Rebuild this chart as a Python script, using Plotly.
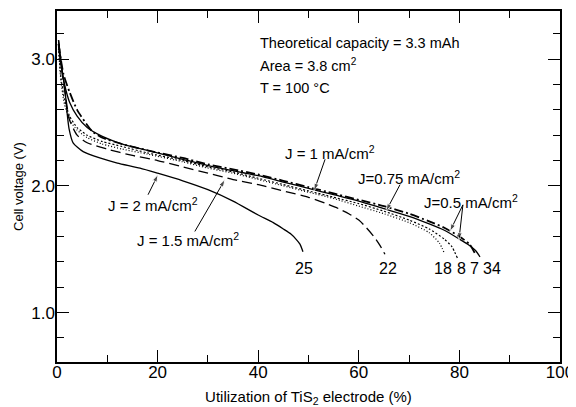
import plotly.graph_objects as go

# ---------------- data ----------------
# J = 2 mA/cm2 (label 25)
x_j2 = [0.3, 1.0, 1.6, 2.0, 2.4, 3.2, 5.2, 8.5, 12, 16.5, 20, 25, 30, 35, 40, 43, 45, 46.5, 47.5, 48.3, 48.9]
y_j2 = [3.15, 2.92, 2.75, 2.58, 2.45, 2.34, 2.27, 2.22, 2.18, 2.14, 2.10, 2.04, 1.97, 1.88, 1.77, 1.71, 1.66, 1.62, 1.58, 1.54, 1.48]

# J = 1.5 mA/cm2 (label 22)
x_j15 = [0.3, 1.0, 1.8, 2.5, 4, 6, 10, 15, 20, 25, 30, 35, 40, 45, 50, 53.5, 56, 58, 60, 61.5, 63, 64.2, 65.2]
y_j15 = [3.15, 2.90, 2.68, 2.52, 2.40, 2.34, 2.29, 2.24, 2.20, 2.15, 2.10, 2.05, 2.01, 1.96, 1.91, 1.86, 1.82, 1.78, 1.73, 1.67, 1.60, 1.53, 1.46]

# J = 1 mA/cm2 (label 18)
x_j1 = [0.3, 0.8, 1.5, 2.5, 4, 6, 9, 13, 18, 25, 30, 35, 40, 45, 50, 55, 60, 65, 70, 74, 76, 77]
y_j1 = [3.08, 2.82, 2.64, 2.52, 2.44, 2.38, 2.33, 2.29, 2.25, 2.19, 2.14, 2.10, 2.05, 2.00, 1.95, 1.90, 1.84, 1.78, 1.71, 1.63, 1.55, 1.47]

# J = 0.75 mA/cm2 (label 8)
x_j075 = [0.3, 0.8, 1.5, 2.5, 4, 6, 9, 13, 18, 25, 30, 35, 40, 45, 50, 55, 60, 65, 70, 74, 77, 78.5, 79.6]
y_j075 = [3.10, 2.85, 2.68, 2.55, 2.46, 2.40, 2.35, 2.31, 2.26, 2.20, 2.15, 2.11, 2.06, 2.01, 1.96, 1.91, 1.86, 1.80, 1.73, 1.66, 1.58, 1.52, 1.43]

# J = 0.5 mA/cm2, first curve (label 7)
x_j05a = [0.3, 1.3, 2.5, 4, 6, 7, 9, 13, 18, 25, 30, 35, 40, 45, 50, 55, 60, 65, 70, 74, 77, 80, 82, 83.3]
y_j05a = [3.12, 2.88, 2.74, 2.60, 2.48, 2.43, 2.38, 2.33, 2.28, 2.22, 2.17, 2.13, 2.09, 2.04, 1.99, 1.94, 1.89, 1.84, 1.78, 1.72, 1.67, 1.60, 1.54, 1.45]

# J = 0.5 mA/cm2, second curve (label 34)
x_j05b = [0.3, 0.8, 1.5, 2.5, 4, 6, 9, 13, 18, 25, 30, 35, 40, 45, 50, 55, 60, 65, 70, 74, 77, 80, 82, 83.2, 84.1]
y_j05b = [3.12, 2.95, 2.80, 2.66, 2.55, 2.46, 2.39, 2.33, 2.28, 2.21, 2.16, 2.12, 2.08, 2.03, 1.98, 1.93, 1.88, 1.82, 1.76, 1.70, 1.65, 1.58, 1.53, 1.49, 1.44]

end_labels = ["25", "22", "18", "8", "7", "34"]
end_label_x = [49.1, 65.8, 76.7, 80.5, 83.1, 86.4]
end_label_y = 1.35

# arrows: (tail x, tail y, head x, head y)
arrows = [(53.3, 2.21, 51.1, 1.96), (68.2, 2.01, 65.4, 1.80), (80.7, 1.85, 78.1, 1.64),
          (80.7, 1.85, 79.9, 1.57), (18.1, 1.93, 20.1, 2.09), (27.4, 1.64, 33.4, 2.05)]

x_ticks = [0, 20, 40, 60, 80, 100]
x_minor_step = 10
y_ticks = [1.0, 2.0, 3.0]
y_minor_step = 0.2

FONT = "Liberation Sans, Arial, sans-serif"

fig = go.Figure()

def add_curve(x, y, dash, width):
    fig.add_trace(go.Scatter(x=x, y=y, mode="lines",
                             line=dict(color="black", width=width, dash=dash, shape="spline", smoothing=0.6),
                             showlegend=False, hoverinfo="skip"))

add_curve(x_j2, y_j2, "solid", 1.3)
add_curve(x_j15, y_j15, "10px,5px", 1.3)
add_curve(x_j1, y_j1, "1px,2px", 1.2)
add_curve(x_j075, y_j075, "2px,2px", 1.2)
add_curve(x_j05a, y_j05a, "9px,3px,2px,3px", 1.8)
add_curve(x_j05b, y_j05b, "solid", 1.3)

for (tx, ty, hx, hy) in arrows:
    fig.add_trace(go.Scatter(x=[tx, hx], y=[ty, hy], mode="lines+markers",
                             line=dict(color="black", width=1),
                             marker=dict(symbol="arrow", size=[0, 8], angleref="previous", color="black"),
                             showlegend=False, hoverinfo="skip"))

annotations = []
for txt, yy in [("Theoretical capacity = 3.3 mAh", 3.126), ("Area = 3.8 cm<sup>2</sup>", 2.953), ("T = 100 °C", 2.77)]:
    annotations.append(dict(x=40.0, y=yy, xref="x", yref="y", text=txt, showarrow=False, xanchor="left",
                            yanchor="middle", font=dict(size=14.5, family=FONT, color="black")))

for txt, xx, yy in [("J = 1 mA/cm<sup>2</sup>", 45.0, 2.26), ("J=0.75 mA/cm<sup>2</sup>", 59.5, 2.07),
                    ("J=0.5 mA/cm<sup>2</sup>", 72.5, 1.88), ("J = 2 mA/cm<sup>2</sup>", 9.8, 1.85),
                    ("J = 1.5 mA/cm<sup>2</sup>", 15.6, 1.575)]:
    annotations.append(dict(x=xx, y=yy, xref="x", yref="y", text=txt, showarrow=False, xanchor="left",
                            yanchor="middle", font=dict(size=15, family=FONT, color="black")))

for lab, xx in zip(end_labels, end_label_x):
    annotations.append(dict(x=xx, y=end_label_y, xref="x", yref="y", text=lab, showarrow=False,
                            xanchor="center", yanchor="middle", font=dict(size=16, family=FONT, color="black")))

# The page body adds an 8 px margin, so the figure is 8 px smaller and its margins are shifted
fig.update_layout(
    width=568, height=399,
    margin=dict(l=49, r=16, t=3, b=45),
    paper_bgcolor="white", plot_bgcolor="white",
    font=dict(family=FONT, color="black", size=15),
    annotations=annotations,
    xaxis=dict(range=[0, 100], tickmode="linear", tick0=x_ticks[0], dtick=x_ticks[1] - x_ticks[0],
               ticks="inside", ticklen=12, tickwidth=1.3, tickcolor="black",
               showline=True, linecolor="black", linewidth=1.5, mirror="ticks", showgrid=False, zeroline=False,
               minor=dict(tickmode="linear", tick0=0, dtick=x_minor_step, ticks="inside", ticklen=7,
                          tickwidth=1.3, tickcolor="black", showgrid=False),
               tickfont=dict(size=17, family=FONT), ticklabelstandoff=-6, automargin=False,
               title=dict(text="Utilization of TiS<sub>2</sub> electrode (%)", font=dict(size=15, family=FONT), standoff=14)),
    yaxis=dict(range=[0.61, 3.38], tickmode="linear", tick0=y_ticks[0], dtick=y_ticks[1] - y_ticks[0], tickformat=".1f",
               ticks="inside", ticklen=12, tickwidth=1.3, tickcolor="black",
               showline=True, linecolor="black", linewidth=1.5, mirror="ticks", showgrid=False, zeroline=False,
               minor=dict(tickmode="linear", tick0=0, dtick=y_minor_step, ticks="inside", ticklen=7,
                          tickwidth=1.3, tickcolor="black", showgrid=False),
               tickfont=dict(size=17, family=FONT), ticklabelstandoff=-3, automargin=False,
               title=dict(text="Cell voltage (V)", font=dict(size=13, family=FONT), standoff=5)),
)

fig.write_html("out.html")
